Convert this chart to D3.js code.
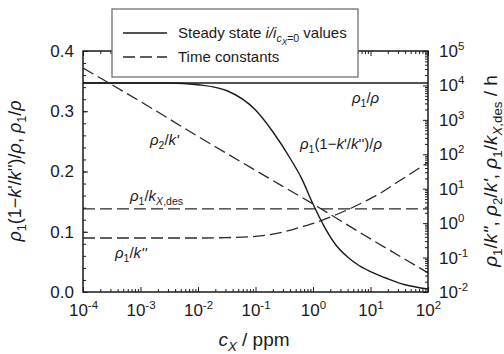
<!DOCTYPE html>
<html>
<head>
<meta charset="utf-8">
<script src="https://cdn.jsdelivr.net/npm/d3@7"></script>
<style>
  body { margin: 0; background: #fff; }
  svg text { font-family: Arial, "Liberation Sans", sans-serif; fill: #1a1a1a; }
</style>
</head>
<body>
<svg id="chart" width="504" height="354"></svg>
<script>
// values (c in ppm)
var steadyC = [0.0001, 0.0032, 0.01, 0.032, 0.1, 0.2, 0.4, 0.63, 1, 1.58, 2.5, 4, 6.3, 10, 20, 40, 100]
var steadyVals = [0.347, 0.347, 0.344, 0.334, 0.302, 0.266, 0.222, 0.189, 0.146, 0.108, 0.078, 0.058, 0.044, 0.034, 0.022, 0.012, 0.005]
var rho1RhoC = [0.0001, 100]
var rho1RhoVals = [0.347, 0.347]

var rho2kC = [0.0001, 0.001, 0.01, 0.1, 1, 10, 100]
var rho2kVals = [32000, 3400, 330, 34, 3.6, 0.35, 0.036]
var kdesC = [0.0001, 100]
var kdesVals = [2.6, 2.6]
var rho1k2C = [0.0001, 0.001, 0.01, 0.03, 0.1, 0.3, 0.6, 1.2, 2.1, 3.9, 8.7, 16, 32, 100]
var rho1k2Vals = [0.37, 0.37, 0.37, 0.38, 0.41, 0.55, 0.76, 1.08, 1.55, 2.4, 4.6, 8.0, 17, 58]

var xDecades = [1e-4, 1e-3, 1e-2, 1e-1, 1, 10, 100]
var xExps = ['-4', '-3', '-2', '-1', '0', '1', '2']
var rDecades = [1e-2, 1e-1, 1, 10, 100, 1e3, 1e4, 1e5]
var rExps = ['-2', '-1', '0', '1', '2', '3', '4', '5']
var leftTicks = [0, 0.1, 0.2, 0.3, 0.4]

var svg = d3.select('#chart')
var L = 83, R = 428, T = 51, B = 292

var x = d3.scaleLog().domain([1e-4, 1e2]).range([L, R])
var yL = d3.scaleLinear().domain([0, 0.4]).range([B, T])
var yR = d3.scaleLog().domain([1e-2, 1e5]).range([B, T])

function zip (a, b) { return a.map(function (v, i) { return { c: v, v: b[i] } }) }

// write a label made of pieces: i = italic, s = subscript, ss = sub-subscript
function rich (sel, parts, size) {
  var shift = 0
  parts.forEach(function (p) {
    var target = 0, fsz = size
    if (p.s) { target = size * 0.28; fsz = size * 0.7 }
    if (p.ss) { target = size * 0.45; fsz = size * 0.55 }
    var ts = sel.append('tspan').text(p.t).attr('font-size', fsz)
    if (target - shift !== 0) ts.attr('dy', target - shift)
    if (p.i) ts.attr('font-style', 'italic')
    shift = target
  })
}

function minorLog (lo, hi) {
  var out = []
  for (var e = lo; e < hi; e++) {
    for (var m = 2; m <= 9; m++) out.push(m * Math.pow(10, e))
  }
  return out
}

// curves
svg.append('clipPath').attr('id', 'clip').append('rect')
  .attr('x', L).attr('y', T).attr('width', R - L).attr('height', B - T)
var plot = svg.append('g').attr('clip-path', 'url(#clip)')

var lineL = d3.line().x(function (d) { return x(d.c) }).y(function (d) { return yL(d.v) }).curve(d3.curveMonotoneX)
var lineR = d3.line().x(function (d) { return x(d.c) }).y(function (d) { return yR(d.v) }).curve(d3.curveMonotoneX)

plot.append('path').attr('d', lineL(zip(rho1RhoC, rho1RhoVals)))
  .attr('fill', 'none').attr('stroke', '#1a1a1a').attr('stroke-width', 1.4)
plot.append('path').attr('d', lineL(zip(steadyC, steadyVals)))
  .attr('fill', 'none').attr('stroke', '#1a1a1a').attr('stroke-width', 1.4)
;[zip(rho2kC, rho2kVals), zip(kdesC, kdesVals), zip(rho1k2C, rho1k2Vals)].forEach(function (s) {
  plot.append('path').attr('d', lineR(s))
    .attr('fill', 'none').attr('stroke', '#2a2a2a').attr('stroke-width', 1.3)
    .attr('stroke-dasharray', '12,5')
})

// axes, ticks pointing inwards
var left = svg.append('g').attr('transform', 'translate(' + L + ',0)')
  .call(d3.axisLeft(yL).tickValues(leftTicks).tickSize(-5).tickPadding(9).tickFormat(d3.format('.1f')))
svg.append('g').attr('transform', 'translate(' + L + ',0)')
  .call(d3.axisLeft(yL).tickValues(d3.range(0.02, 0.4, 0.02)).tickSize(-3).tickFormat(''))

var right = svg.append('g').attr('transform', 'translate(' + R + ',0)')
  .call(d3.axisRight(yR).tickValues(rDecades).tickSize(-5).tickPadding(11).tickFormat(''))
svg.append('g').attr('transform', 'translate(' + R + ',0)')
  .call(d3.axisRight(yR).tickValues(minorLog(-2, 5)).tickSize(-3).tickFormat(''))

var bottom = svg.append('g').attr('transform', 'translate(0,' + B + ')')
  .call(d3.axisBottom(x).tickValues(xDecades).tickSize(-5).tickPadding(12).tickFormat(''))
svg.append('g').attr('transform', 'translate(0,' + B + ')')
  .call(d3.axisBottom(x).tickValues(minorLog(-4, 2)).tickSize(-3).tickFormat(''))
svg.append('g').attr('transform', 'translate(0,' + T + ')')
  .call(d3.axisTop(x).tickValues(xDecades).tickSize(-5).tickFormat(''))
svg.append('g').attr('transform', 'translate(0,' + T + ')')
  .call(d3.axisTop(x).tickValues(minorLog(-4, 2)).tickSize(-3).tickFormat(''))

svg.selectAll('.domain').remove()
svg.selectAll('.tick line').attr('stroke', '#1a1a1a').attr('stroke-width', 1)
left.selectAll('text').attr('font-size', 17).attr('fill', '#1a1a1a')

right.selectAll('.tick text').each(function (d) {
  var t = d3.select(this).attr('font-size', 17).attr('fill', '#1a1a1a')
  t.append('tspan').text('10')
  t.append('tspan').text(rExps[rDecades.indexOf(d)]).attr('font-size', 11.5).attr('dy', -7)
})
bottom.selectAll('.tick text').each(function (d) {
  var t = d3.select(this).attr('font-size', 17).attr('fill', '#1a1a1a')
  t.append('tspan').text('10')
  t.append('tspan').text(xExps[xDecades.indexOf(d)]).attr('font-size', 11.5).attr('dy', -7)
})

svg.append('rect').attr('x', L).attr('y', T).attr('width', R - L).attr('height', B - T)
  .attr('fill', 'none').attr('stroke', '#1a1a1a').attr('stroke-width', 1.5)

// curve labels
var ann = 15
rich(svg.append('text').attr('x', 352).attr('y', 103),
  [{ t: 'ρ', i: true }, { t: '1', s: true }, { t: '/' }, { t: 'ρ', i: true }], ann)
rich(svg.append('text').attr('x', 382).attr('y', 149).attr('text-anchor', 'end'),
  [{ t: 'ρ', i: true }, { t: '1', s: true }, { t: '(1−' }, { t: 'k', i: true }, { t: "'/" }, { t: 'k', i: true }, { t: "'')/" }, { t: 'ρ', i: true }], ann)
rich(svg.append('text').attr('x', 150).attr('y', 145),
  [{ t: 'ρ', i: true }, { t: '2', s: true }, { t: '/' }, { t: "k'", i: true }], ann)
rich(svg.append('text').attr('x', 130).attr('y', 201),
  [{ t: 'ρ', i: true }, { t: '1', s: true }, { t: '/' }, { t: 'k', i: true }, { t: 'X', s: true, i: true }, { t: ',des', s: true }], ann)
rich(svg.append('text').attr('x', 115).attr('y', 258),
  [{ t: 'ρ', i: true }, { t: '1', s: true }, { t: '/' }, { t: "k''", i: true }], ann)

// axis titles
rich(svg.append('text').attr('x', 254).attr('y', 346).attr('text-anchor', 'middle'),
  [{ t: 'c', i: true }, { t: 'X', s: true, i: true }, { t: ' / ppm' }], 19)
rich(svg.append('text').attr('transform', 'translate(21,171) rotate(-90)').attr('text-anchor', 'middle'),
  [{ t: 'ρ', i: true }, { t: '1', s: true }, { t: '(1−' }, { t: 'k', i: true }, { t: "'/" }, { t: 'k', i: true }, { t: "'')/" }, { t: 'ρ', i: true },
    { t: ', ' }, { t: 'ρ', i: true }, { t: '1', s: true }, { t: '/' }, { t: 'ρ', i: true }], 18)
rich(svg.append('text').attr('transform', 'translate(497,171) rotate(-90)').attr('text-anchor', 'middle'),
  [{ t: 'ρ', i: true }, { t: '1', s: true }, { t: '/' }, { t: "k''", i: true }, { t: ', ' },
    { t: 'ρ', i: true }, { t: '2', s: true }, { t: '/' }, { t: "k'", i: true }, { t: ', ' },
    { t: 'ρ', i: true }, { t: '1', s: true }, { t: '/' }, { t: 'k', i: true }, { t: 'X', s: true, i: true }, { t: ',des', s: true }, { t: ' / h' }], 19)

// legend
var leg = svg.append('g')
leg.append('rect').attr('x', 112).attr('y', 9).attr('width', 246).attr('height', 68)
  .attr('fill', '#fff').attr('stroke', '#707070').attr('stroke-width', 1.3)
leg.append('line').attr('x1', 123).attr('x2', 167).attr('y1', 33).attr('y2', 33)
  .attr('stroke', '#1a1a1a').attr('stroke-width', 1.4)
leg.append('line').attr('x1', 123).attr('x2', 167).attr('y1', 57).attr('y2', 57)
  .attr('stroke', '#2a2a2a').attr('stroke-width', 1.3).attr('stroke-dasharray', '12,5')
rich(leg.append('text').attr('x', 178).attr('y', 38),
  [{ t: 'Steady state ' }, { t: 'i/i', i: true }, { t: 'c', s: true, i: true }, { t: 'X', ss: true, i: true }, { t: '=0', s: true }, { t: ' values' }], 15)
rich(leg.append('text').attr('x', 178).attr('y', 62), [{ t: 'Time constants' }], 15)
</script>
</body>
</html>
